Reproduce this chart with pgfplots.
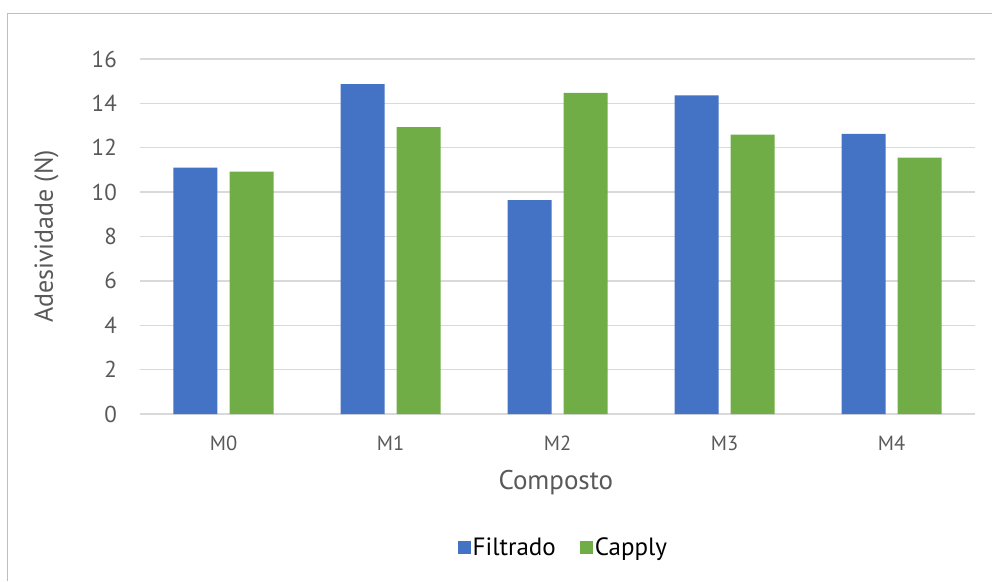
\documentclass[border=0pt]{standalone}
\usepackage{fontspec}
\setmainfont{PT Sans}
\usepackage{pgfplots}
\pgfplotsset{compat=1.18}

\definecolor{filtrado}{HTML}{4472C4}
\definecolor{capply}{HTML}{70AD47}
\definecolor{labelgray}{HTML}{595959}
\definecolor{gridgray}{HTML}{D9D9D9}
\definecolor{framegray}{HTML}{BFBFBF}

\begin{document}
\begin{tikzpicture}
% page area: plot box lower-left corner sits at the origin
\path[use as bounding box] (-140pt,-167pt) rectangle (852pt,414pt);
% outer chart frame (top and left edges)
\draw[framegray, line width=1.6pt] (-132.5pt,-167pt) -- (-132.5pt,400.5pt) -- (852pt,400.5pt);
\begin{axis}[
  anchor=south west, at={(0pt,0pt)},
  scale only axis, width=835pt, height=355pt,
  xmin=-0.5, xmax=4.5, ymin=0, ymax=16,
  xtick={0,1,2,3,4}, xticklabels={M0,M1,M2,M3,M4},
  ytick={0,2,...,16},
  axis x line*=bottom, axis y line*=left,
  y axis line style={draw=none},
  x axis line style={gridgray, line width=1.3pt},
  ymajorgrids, grid style={gridgray, line width=1.3pt},
  major tick length=0pt, tick style={draw=none},
  /pgf/number format/assume math mode=true,
  yticklabel style={font=\fontsize{23}{27}\selectfont, text=labelgray, anchor=east, inner sep=0pt, xshift=-23pt},
  xticklabel style={font=\fontsize{20.5}{24}\selectfont, text=labelgray, anchor=center, inner sep=0pt, yshift=-29pt},
  xlabel={Composto},
  xlabel style={font=\fontsize{27}{32}\selectfont, text=labelgray, at={(axis description cs:0.498,-0.194)}, anchor=center},
  ylabel={Adesividade (N)},
  ylabel style={font=\fontsize{26}{31}\selectfont, text=labelgray, at={(axis description cs:-0.112,0.5)}, anchor=center},
  legend columns=2,
  legend style={draw=none, fill=none, at={(0.507,-0.377)}, anchor=center,
    font=\fontsize{25}{29}\selectfont, text=black,
    /tikz/every even column/.append style={column sep=22pt},
    inner sep=0pt},
  legend image code/.code={\fill[#1] (0pt,-6.5pt) rectangle (13pt,6.5pt);},
]
\addplot[ybar, fill=filtrado, draw=none, bar width=44pt, bar shift=-28pt]
  coordinates {(0,11.10) (1,14.87) (2,9.64) (3,14.36) (4,12.62)};
\addplot[ybar, fill=capply, draw=none, bar width=44pt, bar shift=28pt]
  coordinates {(0,10.92) (1,12.93) (2,14.47) (3,12.59) (4,11.55)};
\legend{Filtrado, Capply}
\end{axis}
\end{tikzpicture}
\end{document}
